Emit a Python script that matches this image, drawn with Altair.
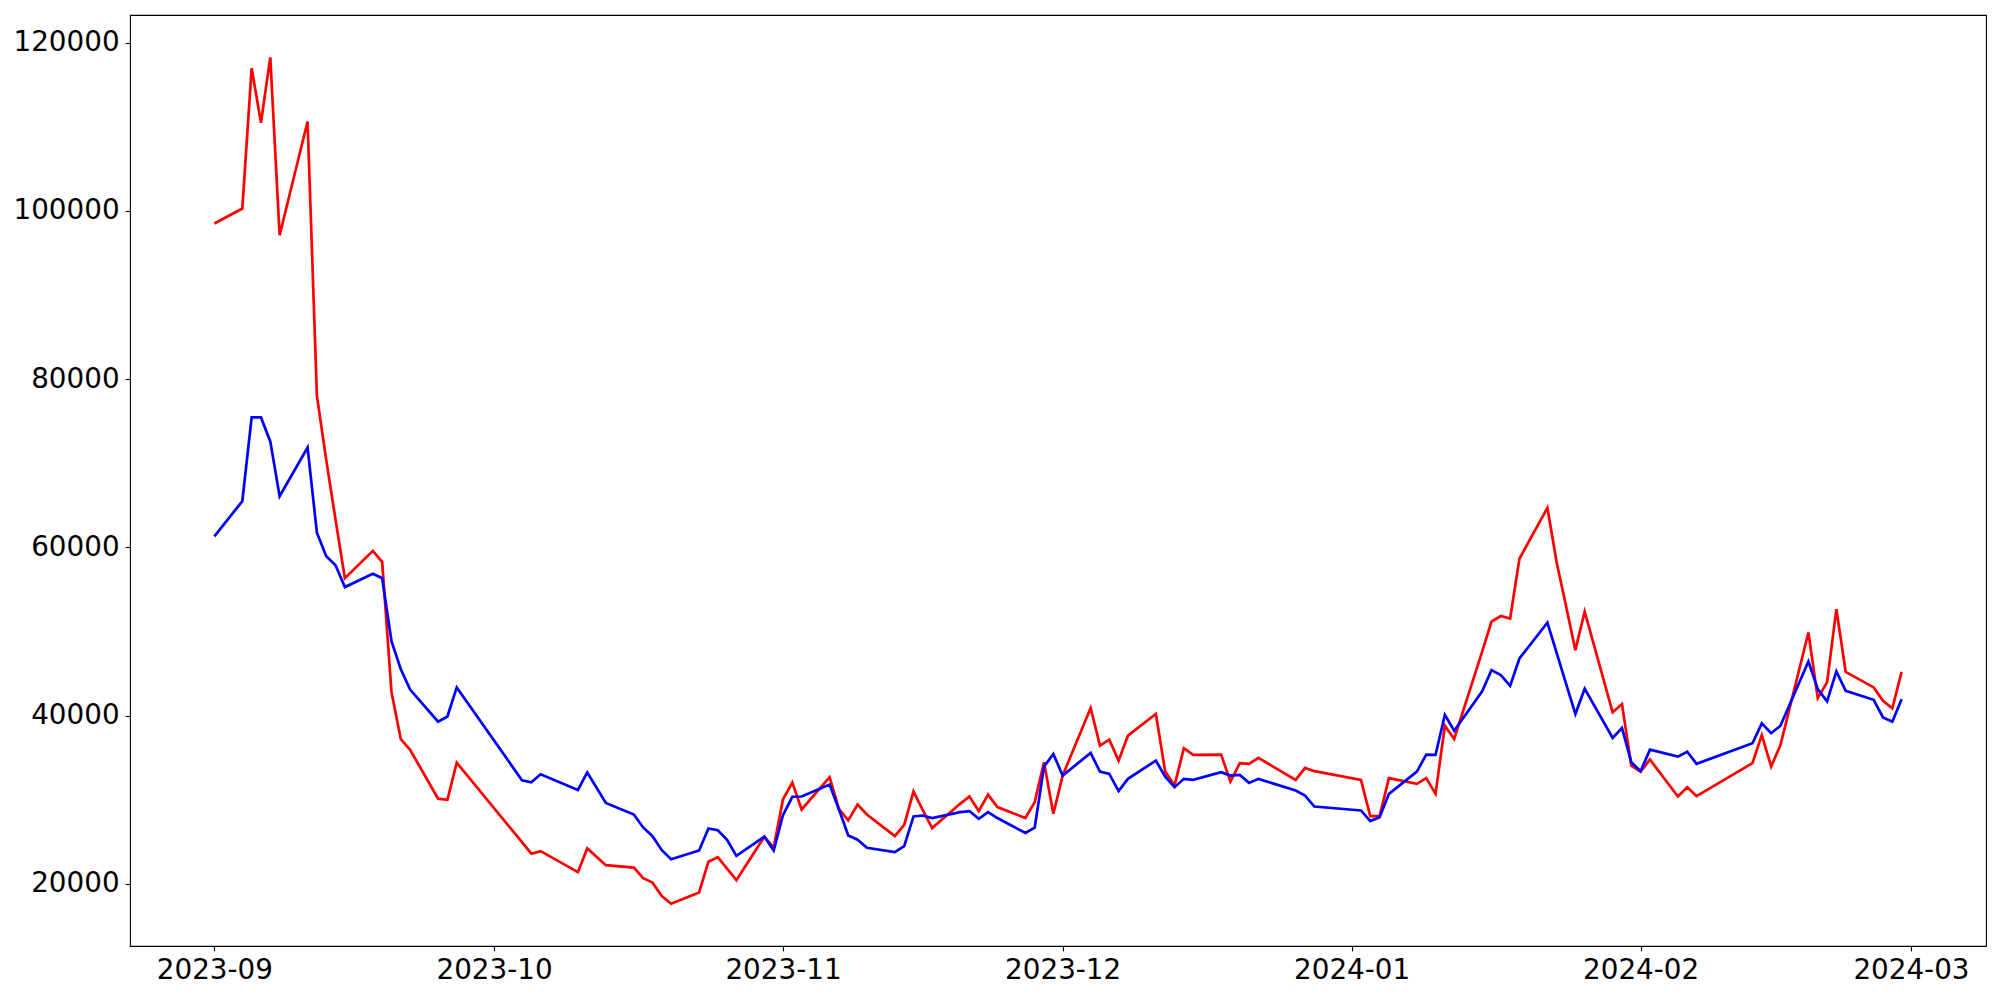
import altair as alt
import pandas as pd

dates = [
    # Sep 2023
    "2023-09-01", "2023-09-04", "2023-09-05", "2023-09-06", "2023-09-07", "2023-09-08",
    "2023-09-11", "2023-09-12", "2023-09-13", "2023-09-14", "2023-09-15",
    "2023-09-18", "2023-09-19", "2023-09-20", "2023-09-21", "2023-09-22",
    "2023-09-25", "2023-09-26", "2023-09-27",
    # Oct 2023
    "2023-10-04", "2023-10-05", "2023-10-06", "2023-10-10", "2023-10-11", "2023-10-13",
    "2023-10-16", "2023-10-17", "2023-10-18", "2023-10-19", "2023-10-20",
    "2023-10-23", "2023-10-24", "2023-10-25", "2023-10-26", "2023-10-27",
    "2023-10-30", "2023-10-31",
    # Nov 2023
    "2023-11-01", "2023-11-02", "2023-11-03", "2023-11-06", "2023-11-07", "2023-11-08",
    "2023-11-09", "2023-11-10", "2023-11-13", "2023-11-14", "2023-11-15", "2023-11-16",
    "2023-11-17", "2023-11-20", "2023-11-21", "2023-11-22", "2023-11-23", "2023-11-24",
    "2023-11-27", "2023-11-28", "2023-11-29", "2023-11-30",
    # Dec 2023
    "2023-12-01", "2023-12-04", "2023-12-05", "2023-12-06", "2023-12-07", "2023-12-08",
    "2023-12-11", "2023-12-12", "2023-12-13", "2023-12-14", "2023-12-15",
    "2023-12-18", "2023-12-19", "2023-12-20", "2023-12-21", "2023-12-22",
    "2023-12-26", "2023-12-27", "2023-12-28",
    # Jan 2024
    "2024-01-02", "2024-01-03", "2024-01-04", "2024-01-05", "2024-01-08", "2024-01-09",
    "2024-01-10", "2024-01-11", "2024-01-12", "2024-01-15", "2024-01-16", "2024-01-17",
    "2024-01-18", "2024-01-19", "2024-01-22", "2024-01-23", "2024-01-24", "2024-01-25",
    "2024-01-26", "2024-01-29", "2024-01-30", "2024-01-31",
    # Feb 2024
    "2024-02-01", "2024-02-02", "2024-02-05", "2024-02-06", "2024-02-07", "2024-02-13",
    "2024-02-14", "2024-02-15", "2024-02-16", "2024-02-19", "2024-02-20", "2024-02-21",
    "2024-02-22", "2024-02-23", "2024-02-26", "2024-02-27", "2024-02-28", "2024-02-29",
]

red_values = [
    # Sep
    98500, 100280, 116960, 110480, 118260, 97110,
    110630, 78020, 70400, 63300, 56330,
    59580, 58280, 42810, 37200, 35940,
    30120, 29990, 34400,
    # Oct
    24950, 23580, 23880, 21390, 24210, 22220,
    21930, 20680, 20140, 18550, 17640,
    18970, 22630, 23180, 21800, 20430,
    25600, 24300,
    # Nov
    30050, 32050, 28840, 32680, 28920, 27530,
    29430, 28240, 25680, 27020, 30970, 28760,
    26630, 29510, 30380, 28650, 30610, 29120,
    27820, 29710, 34460, 28330,
    # Dec
    32870, 40900, 36430, 37140, 34650, 37610,
    40190, 33340, 31680, 36120, 35320,
    35360, 32160, 34340, 34260, 34970,
    32360, 33780, 33390,
    # Jan
    32360, 28050, 28050, 32560, 31880, 32560,
    30700, 38800, 37220, 47600, 51180, 51840,
    51540, 58650, 64700, 58180, 53030, 47780,
    52370, 40390, 41370, 34050,
    # Feb
    33340, 34770, 30380, 31490, 30420, 34340,
    37700, 33940, 36510, 49880, 42080, 43950,
    52640, 45200, 43350, 41760, 40860, 45200,
]

blue_values = [
    # Sep
    61300, 65500, 75450, 75450, 72600, 66080,
    71860, 61740, 58950, 57870, 55280,
    56870, 56330, 48840, 45510, 43090,
    39270, 39890, 43350,
    # Oct
    32320, 32070, 33020, 31160, 33240, 29620,
    28240, 26700, 25670, 24000, 22920,
    23960, 26580, 26370, 25240, 23330,
    25600, 23970,
    # Nov
    28180, 30350, 30380, 31800, 28840, 25750,
    25240, 24290, 23780, 24490, 28010, 28120,
    27820, 28530, 28650, 27730, 28530, 27820,
    26040, 26670, 33940, 35440,
    # Dec
    32870, 35560, 33340, 33070, 31020, 32480,
    34650, 32750, 31490, 32480, 32360,
    33270, 32870, 32950, 32000, 32480,
    31090, 30500, 29190,
    # Jan
    28720, 27460, 27930, 30700, 33340, 35360,
    35320, 40100, 38200, 42880, 45400, 44810,
    43540, 46790, 51060, 47430, 43810, 40190,
    43200, 37340, 38530, 34460,
    # Feb
    33390, 35950, 35120, 35710, 34260, 36710,
    39080, 37900, 38800, 46440, 43150, 41690,
    45250, 42950, 41880, 39790, 39270, 41960,
]

x_tick_labels = ["2023-09", "2023-10", "2023-11", "2023-12", "2024-01", "2024-02", "2024-03"]
y_ticks = [20000, 40000, 60000, 80000, 100000, 120000]

dt = [d + "T00:00:00" for d in dates]
red_df = pd.DataFrame({"date": dt, "value": red_values})
blue_df = pd.DataFrame({"date": dt, "value": blue_values})

# matplotlib-like 5% margins
t0 = pd.Timestamp(dates[0])
t1 = pd.Timestamp(dates[-1])
pad_t = (t1 - t0) * 0.05
d_start = t0 - pad_t
d_end = t1 + pad_t


def to_dt(ts):
    return alt.DateTime(year=ts.year, month=ts.month, date=ts.day,
                        hours=ts.hour, minutes=ts.minute, seconds=ts.second)


allv = red_values + blue_values
vmin, vmax = min(allv), max(allv)
vpad = (vmax - vmin) * 0.05
y_domain = [vmin - vpad, vmax + vpad]

tick_vals = []
for lab in x_tick_labels:
    y, m = lab.split("-")
    tick_vals.append(alt.DateTime(year=int(y), month=int(m), date=1))

FONT = "DejaVu Sans"
FS = 27.8

x_enc = alt.X(
    "date:T",
    scale=alt.Scale(domain=[to_dt(d_start), to_dt(d_end)], nice=False),
    axis=alt.Axis(values=tick_vals, format="%Y-%m", title=None, grid=False,
                  domain=False, tickSize=4.9, tickWidth=1.1, tickColor="black",
                  labelPadding=5.5, labelFontSize=FS, labelFont=FONT,
                  labelColor="black", labelFlush=False, labelOverlap=False),
)
y_enc = alt.Y(
    "value:Q",
    scale=alt.Scale(domain=y_domain, nice=False, zero=False),
    axis=alt.Axis(values=y_ticks, format="d", title=None, grid=False,
                  domain=False, tickSize=4.9, tickWidth=1.1, tickColor="black",
                  labelPadding=6, labelFontSize=FS, labelFont=FONT,
                  labelColor="black", labelFlush=False, labelOverlap=False),
)

red_line = alt.Chart(red_df).mark_line(color="#ff0000", strokeWidth=2.7).encode(x=x_enc, y=y_enc)
blue_line = alt.Chart(blue_df).mark_line(color="#0000ff", strokeWidth=2.7).encode(x=x_enc, y=y_enc)

chart = alt.layer(red_line, blue_line).properties(
    width=1856,
    height=931,
    autosize=alt.AutoSizeParams(type="none"),
    padding={"left": 122, "top": 7, "right": 6, "bottom": 40},
    background="white",
).configure_view(
    stroke="black",
    strokeWidth=1.1,
)

chart.save("out.html", embed_options={"renderer": "svg", "actions": False})
